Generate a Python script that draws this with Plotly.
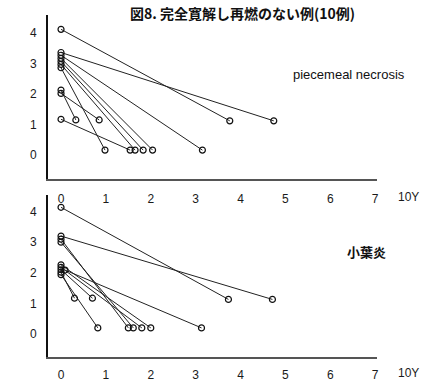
import plotly.graph_objects as go

# Each case: value at start (t ~ 0) and value at follow-up time t (x axis unit = 10 years)
pn_start_t = [0, 0, 0, 0, 0, 0, 0, 0, 0, 0]
pn_start_v = [4.12, 3.36, 3.27, 3.17, 3.07, 2.97, 2.86, 2.13, 2.02, 1.17]
pn_end_t = [3.76, 4.74, 3.15, 2.04, 1.83, 1.65, 0.98, 0.33, 0.85, 1.54]
pn_end_v = [1.12, 1.12, 0.16, 0.16, 0.16, 0.16, 0.16, 1.15, 1.15, 0.16]

lob_start_t = [0, 0, 0, 0, 0.09, 0, 0, 0, 0, 0]
lob_start_v = [4.14, 3.2, 3.1, 3.0, 2.09, 2.26, 2.18, 2.10, 2.02, 1.94]
lob_end_t = [3.73, 4.71, 1.5, 1.61, 3.13, 2.0, 1.8, 0.7, 0.3, 0.82]
lob_end_v = [1.13, 1.13, 0.2, 0.2, 0.2, 0.2, 0.2, 1.17, 1.17, 0.2]

x_ticks = [0, 1, 2, 3, 4, 5, 6, 7]
y_ticks = [0, 1, 2, 3, 4]

title_text = "図8. 完全寛解し再燃のない例(10例)"
top_label = "piecemeal necrosis"
bottom_label = "小葉炎"
x_unit = "10Y"

W, H = 424, 383


def segments(st, sv, et, ev):
    xs, ys = [], []
    for a, b, c, d in zip(st, sv, et, ev):
        xs += [a, c, None]
        ys += [b, d, None]
    return xs, ys


fig = go.Figure()
for (st, sv, et, ev), (xa, ya) in [
    ((pn_start_t, pn_start_v, pn_end_t, pn_end_v), ("x", "y")),
    ((lob_start_t, lob_start_v, lob_end_t, lob_end_v), ("x2", "y2")),
]:
    xs, ys = segments(st, sv, et, ev)
    fig.add_trace(go.Scatter(
        x=xs, y=ys, xaxis=xa, yaxis=ya, mode="lines+markers",
        line=dict(color="#222", width=1),
        marker=dict(symbol="circle-open", size=6, color="#111",
                    line=dict(width=1.2, color="#111")),
        showlegend=False, hoverinfo="skip",
    ))

tick_font = dict(family="Liberation Sans, Arial, sans-serif", size=12, color="#1a1a1a")
x_range = [-0.29, 7.04]


def xaxis(domain_y_anchor, standoff):
    return dict(
        domain=[48 / W, 377 / W], range=x_range, anchor=domain_y_anchor,
        showline=True, linecolor="#555", linewidth=1.5, mirror=False,
        showgrid=False, zeroline=False, ticks="",
        tickmode="array", tickvals=x_ticks, ticktext=[str(v) for v in x_ticks],
        tickfont=dict(tick_font), ticklabelstandoff=standoff, fixedrange=True,
    )


def yaxis(px_top, px_bot, rng, anchor):
    return dict(
        domain=[1 - px_bot / H, 1 - px_top / H], range=rng, anchor=anchor,
        showline=True, linecolor="#111", linewidth=2,
        showgrid=False, zeroline=False, ticks="",
        tickmode="array", tickvals=y_ticks, ticktext=[str(v) for v in y_ticks],
        tickfont=dict(tick_font), ticklabelstandoff=7, fixedrange=True,
    )


fig.update_layout(
    template="none",
    width=W, height=H,
    margin=dict(l=0, r=0, t=0, b=0),
    paper_bgcolor="white", plot_bgcolor="white",
    xaxis=xaxis("y", 8),
    yaxis=yaxis(15, 179, [(155 - 179) / 30.5, (155 - 15) / 30.5], "x"),
    xaxis2=xaxis("y2", 6),
    yaxis2=yaxis(195, 357, [(334 - 357) / 30.6, (334 - 195) / 30.6], "x2"),
    annotations=[
        dict(text="<b>" + title_text + "</b>", x=243 / W, y=1 - 13 / H,
             xref="paper", yref="paper",
             showarrow=False, xanchor="center", yanchor="middle",
             font=dict(family="Noto Sans CJK JP", size=14, color="#111")),
        dict(text=top_label, x=291 / W, y=1 - 75 / H, xref="paper", yref="paper",
             showarrow=False, xanchor="left", yanchor="middle",
             font=dict(family="Liberation Sans, Arial, sans-serif", size=13, color="#111")),
        dict(text="<b>" + bottom_label + "</b>", x=366 / W, y=1 - 252 / H,
             xref="paper", yref="paper", showarrow=False,
             xanchor="center", yanchor="middle",
             font=dict(family="Noto Sans CJK JP", size=13, color="#111")),
        dict(text=x_unit, x=408 / W, y=1 - 197 / H, xref="paper", yref="paper",
             showarrow=False, xanchor="center", yanchor="middle", font=dict(tick_font)),
        dict(text=x_unit, x=408 / W, y=1 - 373 / H, xref="paper", yref="paper",
             showarrow=False, xanchor="center", yanchor="middle", font=dict(tick_font)),
    ],
)

fig.write_html("out.html")
